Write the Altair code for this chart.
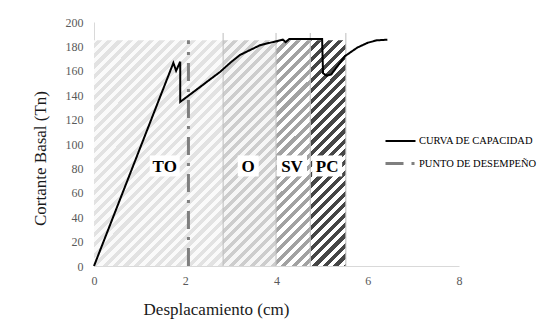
import math
import altair as alt
import pandas as pd

# ---------------- data ----------------
curve_x = [0.0, 1.74, 1.80, 1.89, 1.89, 2.76, 3.00, 3.20, 3.64, 3.97, 4.14, 4.20, 4.28,
           5.00, 5.02, 5.10, 5.20, 5.50, 5.77, 6.00, 6.20, 6.43]
curve_y = [0.0, 166.5, 160.0, 167.5, 134.5, 159.0, 167.0, 173.0, 181.0, 184.0, 185.5, 183.5, 186.0,
           186.0, 158.0, 156.0, 157.0, 172.0, 179.0, 183.0, 185.0, 185.5]

pp_x = [2.07, 2.07]
pp_y = [0.0, 185.0]

series_names = ["CURVA DE CAPACIDAD", "PUNTO DE DESEMPEÑO"]

zone_names = ["TO", "O", "SV", "PC"]
zone_start = [0.0, 2.83, 3.99, 4.74]
zone_end = [2.83, 3.99, 4.74, 5.52]
zone_top = 185.0
zone_label_x = [1.55, 3.38, 4.34, 5.11]
zone_label_y = 82.0
boundary_top = 191.0

x_ticks = [0, 2, 4, 6, 8]
y_ticks = list(range(0, 201, 20))

# ---------------- layout ----------------
W, H = 365, 244
XMAX, YMAX = 8, 200
FONT = "Liberation Serif"

zone_fg = ["#e2e2e2", "#cdcdcd", "#a2a2a2", "#464646"]
zone_bg = ["#fafafa", "#f6f6f6", "#ffffff", "#ffffff"]


def stripe_fill(x0, x1, y0, y1, fg, bg, period=10.5):
    sx, sy = W / XMAX, H / YMAX
    left, right = x0 * sx, x1 * sx
    top, bottom = H - y1 * sy, H - y0 * sy
    w, h = right - left, bottom - top
    k = (w + h) / (w * w + h * h)
    base, total = left + top, w + h
    g0 = base / period
    cur = fg if (g0 + 1e-9) % 1 < 0.5 else bg
    stops = [alt.GradientStop(offset=0, color=cur)]
    m = math.floor(2 * g0) + 1
    while True:
        t = (m / 2 * period - base) / total
        if t >= 1:
            break
        stops.append(alt.GradientStop(offset=round(t, 5), color=cur))
        cur = fg if m % 2 == 0 else bg
        stops.append(alt.GradientStop(offset=round(t, 5), color=cur))
        m += 1
    stops.append(alt.GradientStop(offset=1, color=cur))
    return alt.LinearGradient(gradient="linear", stops=stops,
                              x1=0, y1=0, x2=round(k * w, 5), y2=round(k * h, 5))


xscale = alt.Scale(domain=[0, XMAX], nice=False, zero=False)
yscale = alt.Scale(domain=[0, YMAX], nice=False, zero=False)

xaxis = alt.Axis(values=x_ticks, title="Desplacamiento (cm)", titleX=122, titleY=48,
                 titleBaseline="alphabetic", titleAlign="center", labelPadding=9,
                 labelOverlap=False, labelFlush=False)
yaxis = alt.Axis(values=y_ticks, title="Cortante Basal (Tn)", titleX=-49, titleY=136,
                 titleBaseline="alphabetic", titleAlign="center", titleAngle=270,
                 labelPadding=11, labelOverlap=False, labelFlush=False)


def X(field):
    return alt.X(field, scale=xscale, axis=xaxis)


def Y(field):
    return alt.Y(field, scale=yscale, axis=yaxis)


layers = []
for i, name in enumerate(zone_names):
    dfz = pd.DataFrame({"x0": [zone_start[i]], "x1": [zone_end[i]], "y0": [0.0], "y1": [zone_top]})
    layers.append(
        alt.Chart(dfz).mark_rect(
            fill=stripe_fill(zone_start[i], zone_end[i], 0, zone_top, zone_fg[i], zone_bg[i]),
            strokeWidth=0)
        .encode(x=X("x0:Q"), x2="x1:Q", y=Y("y0:Q"), y2="y1:Q")
    )

bdf = pd.DataFrame({"x": zone_end, "y0": [0.0] * len(zone_end), "y1": [boundary_top] * len(zone_end)})
layers.append(
    alt.Chart(bdf).mark_rule(color="#bdbdbd", strokeWidth=1)
    .encode(x=X("x:Q"), y=Y("y0:Q"), y2="y1:Q")
)

# label boxes
lab = pd.DataFrame({"name": zone_names, "x": zone_label_x, "y": [zone_label_y] * len(zone_names)})
lab["bw"] = 12 + 9 * lab["name"].str.len()
lab["size"] = lab["bw"] ** 2
lab["shape"] = [
    "M-1,-{r:.4f}L1,-{r:.4f}L1,{r:.4f}L-1,{r:.4f}Z".format(r=10.5 / (bw / 2)) for bw in lab["bw"]
]
layers.append(
    alt.Chart(lab).mark_point(filled=True, fill="white", opacity=1, strokeWidth=0)
    .encode(x=X("x:Q"), y=Y("y:Q"),
            size=alt.Size("size:Q", scale=None, legend=None),
            shape=alt.Shape("shape:N", scale=None, legend=None))
)
layers.append(
    alt.Chart(lab).mark_text(font=FONT, fontSize=17, fontWeight="bold", color="black",
                             baseline="middle", align="center", dy=1)
    .encode(x=X("x:Q"), y=Y("y:Q"), text="name:N")
)

# lines
ldf = pd.concat([
    pd.DataFrame({"x": curve_x, "y": curve_y, "serie": series_names[0], "o": range(len(curve_x))}),
    pd.DataFrame({"x": pp_x, "y": pp_y, "serie": series_names[1], "o": range(len(pp_x))}),
], ignore_index=True)

legend = alt.Legend(orient="none", legendX=290, legendY=103, title=None, symbolType="stroke",
                    symbolSize=900, labelFont=FONT, labelFontSize=10.5, labelColor="black",
                    labelOffset=2, rowPadding=-13, padding=0, labelLimit=200)

layers.append(
    alt.Chart(ldf).mark_line(strokeCap="butt")
    .encode(x=X("x:Q"), y=Y("y:Q"),
            color=alt.Color("serie:N", scale=alt.Scale(domain=series_names, range=["#000000", "#7f7f7f"]),
                            legend=legend),
            strokeDash=alt.StrokeDash("serie:N", scale=alt.Scale(domain=series_names,
                                                                  range=[[1, 0], [18, 8, 3, 8]])),
            strokeWidth=alt.StrokeWidth("serie:N", scale=alt.Scale(domain=series_names, range=[2, 3])),
            order="o:Q", detail="serie:N")
)

chart = alt.layer(*layers).properties(
    width=W, height=H,
    autosize=alt.AutoSizeParams(type="none"),
    padding={"left": 86, "top": 14, "right": 80, "bottom": 54},
).configure_view(stroke=None).configure_axis(
    domainColor="#d9d9d9", ticks=False, grid=False, labelColor="#595959", labelFont=FONT,
    labelFontSize=12, titleFont=FONT, titleFontSize=17, titleFontWeight="normal", titleColor="#1a1a1a",
    labelOverlap=False,
)

chart.save("out.html", embed_options={"renderer": "svg", "actions": False})
